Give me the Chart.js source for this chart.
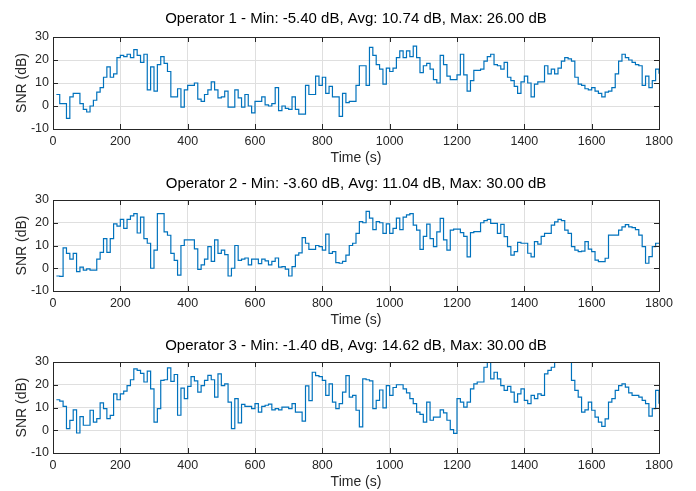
<!DOCTYPE html>
<html>
<head>
<meta charset="utf-8">
<script src="https://cdn.jsdelivr.net/npm/chart.js@4/dist/chart.umd.min.js"></script>
<style>
  body { margin: 0; background: #fff; }
  .wrap { position: relative; width: 696px; height: 491px; }
  canvas { position: absolute; left: 0; }
</style>
</head>
<body>
<div class="wrap">
  <canvas id="op1" width="696" height="165" style="top:0px"></canvas>
  <canvas id="op2" width="696" height="162" style="top:165px"></canvas>
  <canvas id="op3" width="696" height="162" style="top:327px"></canvas>
</div>
<script>
// SNR samples, one every 10 s (value held until the next sample)
const sampleTimes = [];
for (let t = 10; t <= 1800; t += 10) sampleTimes.push(t);

const snrOperator1 = [
  5, 1, 1, -5.4, 4, 5.5, 5.5, 1, -1.5, -2.6,
  0, 2.5, 6, 8, 12.5, 17, 12.5, 14, 21, 22,
  21.5, 22.5, 21, 24.5, 22, 19, 22.5, 7, 17, 6.5,
  18, 21.5, 18.5, 15, 4, 4, 7.5, -0.5, 7, 9,
  9, 10, 3, 2, 5, 7, 10.5, 7, 3.5, 4,
  6.5, -0.5, -0.5, 7, 3.5, -0.5, 5, 0, -3, 2,
  2, 4, 0.5, 0, 1, 8, -2, 0, -1, -1.5,
  4, -1.5, -3.5, -3.5, 9, 5, 5, 13, 9, 12.5,
  5.5, 8.5, 4, 4, -4.5, 5.5, 1.5, 2, 2, 9,
  17.5, 17.5, 9, 25.5, 22, 18, 16, 9.5, 16.5, 15,
  16.5, 21, 24, 21, 24, 21.5, 26, 21, 14.5, 17.5,
  18.5, 16, 11.5, 10, 22, 18, 13, 11.5, 11.5, 13.5,
  22.5, 13.5, 6.5, 11, 15.5, 15.5, 16, 19.5, 21.5, 22.5,
  18, 17.5, 16, 19, 12.5, 11, 8.5, 5.5, 10.5, 13,
  10, 4, 9.5, 10.5, 10.5, 17.5, 14, 16, 14, 16.5,
  19.5, 21, 20.5, 19.5, 12.5, 9.5, 9, 7.5, 7, 8,
  6.5, 5.5, 4, 6, 6.5, 8, 14, 19.5, 22.5, 21,
  20, 19, 18, 17.5, 9, 13, 8, 11, 16, 14
];

const snrOperator2 = [
  -3.4, -3.6, 9, 6.5, 4, 6.5, -1.5, 0.5, -0.8, -0.3,
  -0.8, -0.8, 4, 7, 13, 7, 13, 19.5, 18.5, 21.5,
  17.5, 21.5, 23, 24, 15.5, 22.5, 13, 11, 0, 8,
  24, 24, 16, 14.5, 6.5, 3.5, -3, 10, 12.5, 12.5,
  12.5, 8.5, -0.5, 1.5, 4, 9.5, 3, 12.5, 6.5, 8,
  6, -3.4, 0, 10, 3.5, 4, 4.5, 1.5, 4, 4,
  2, 4, 3.2, 1.5, 3, 4.5, 0.5, 0.7, -0.4, -3.4,
  0.7, 5.8, 6.8, 13.5, 11, 8.3, 8.3, 10, 9.5, 8,
  15, 6.5, 7.3, 2.5, 2.2, 3, 5.8, 10, 11, 15.3,
  20.5, 20, 25, 22, 17, 20.5, 20, 15.3, 19.5, 15.3,
  17.5, 22, 17, 22.5, 23.5, 24, 19, 16.8, 8.3, 14,
  19.4, 13, 9.5, 16, 21.9, 12.5, 8, 16.8, 17.2, 17.2,
  15.7, 14, 5, 15.7, 16.1, 16.1, 20, 20.9, 21.5, 19.7,
  19.7, 15.3, 19.3, 13.9, 9.5, 5.8, 7.3, 11.4, 11, 11,
  6.6, 5, 11.7, 10.6, 14, 15.3, 15.3, 19, 20.4, 21.5,
  20.9, 16.8, 15.3, 9.5, 8, 7.3, 7.5, 11.7, 8.4, 7.3,
  3.6, 2.9, 2.9, 4.4, 14.6, 14.6, 14.6, 16.8, 18.2, 19.2,
  18.2, 17.9, 17, 14.6, 9.5, 2.2, 5.1, 9.5, 11, 11
];

const snrOperator3 = [
  13.4, 12.8, 10.5, 0.7, 4.3, 9, -1.2, 6, 2.2, 2.2,
  8.8, 3.6, 5.1, 12, 9.5, 5.1, 6.5, 16, 13.4, 16,
  17.2, 19.6, 22.2, 27, 26.3, 25, 21.2, 26, 18.2, 3.6,
  9.5, 21.9, 22.2, 27.4, 21.5, 24.5, 6.6, 18.5, 13.9, 19.3,
  23.6, 21.7, 16.8, 19.6, 21.9, 24.1, 22.2, 14.6, 24.8, 19.6,
  20.4, 12.4, 0.7, 13.9, 3.2, 11.4, 10.5, 10.5, 9.5, 11.7,
  8, 10.5, 11, 11.5, 9, 9.5, 9, 10.2, 10.2, 9.5,
  11.7, 8, 8, 4, 19.5, 13, 25.5, 24, 23.6, 21.9,
  15.3, 20.4, 12.4, 9.5, 11.7, 16.8, 24, 14.6, 15.3, 8.8,
  1.5, 22.6, 22.2, 21.7, 9.5, 13.1, 17.7, 9.8, 19.6, 15.3,
  18.8, 20, 20, 18.2, 16.4, 13.9, 11.7, 8, 7, 3.6,
  12.4, 4.4, 5.8, 5.8, 9, 7.6, 4.4, 0.3, -1.4, 13.9,
  12.4, 10.2, 12.4, 18.2, 20.4, 21.2, 21.2, 27.7, 30, 22.6,
  25.5, 22.6, 19.6, 17.5, 19.3, 16.8, 12.4, 16, 18.2, 13.1,
  11.7, 15.3, 13.9, 16, 15.3, 24.8, 26.3, 27.7, 30, 30,
  30, 30, 30, 21.9, 17.5, 14.6, 8, 9, 12.4, 8.8,
  5.8, 3.6, 1.7, 5, 12.4, 13.9, 17.5, 19.6, 20.4, 19,
  16.4, 15.3, 15.3, 14.6, 13.1, 11.7, 6.2, 9.5, 17.5, 11.7
];

const plotTitles = [
  'Operator 1 - Min: -5.40 dB, Avg: 10.74 dB, Max: 26.00 dB',
  'Operator 2 - Min: -3.60 dB, Avg: 11.04 dB, Max: 30.00 dB',
  'Operator 3 - Min: -1.40 dB, Avg: 14.62 dB, Max: 30.00 dB'
];

const axisColor = '#262626';
const gridColor = '#dfdfdf';
const fontFamily = '"Liberation Sans", Arial, Helvetica, sans-serif';

// draws the dark axes box and the inward tick marks on all four sides
const boxAndTicks = {
  id: 'boxAndTicks',
  afterDatasetsDraw(chart) {
    const { ctx, chartArea: a, scales: { x, y } } = chart;
    const len = 5;
    ctx.save();
    ctx.strokeStyle = axisColor;
    ctx.lineWidth = 1;
    ctx.beginPath();
    x.ticks.forEach(t => {
      const px = Math.round(x.getPixelForValue(t.value)) + 0.5;
      ctx.moveTo(px, a.bottom); ctx.lineTo(px, a.bottom - len);
      ctx.moveTo(px, a.top); ctx.lineTo(px, a.top + len);
    });
    y.ticks.forEach(t => {
      const py = Math.round(y.getPixelForValue(t.value)) + 0.5;
      ctx.moveTo(a.left, py); ctx.lineTo(a.left + len, py);
      ctx.moveTo(a.right, py); ctx.lineTo(a.right - len, py);
    });
    ctx.stroke();
    ctx.strokeRect(Math.round(a.left) + 0.5, Math.round(a.top) + 0.5,
      Math.round(a.right - a.left), Math.round(a.bottom - a.top));
    ctx.restore();
  }
};

// title centred over the plot area rather than over the whole canvas
const axesTitle = {
  id: 'axesTitle',
  afterDraw(chart, args, opts) {
    const { ctx, chartArea: a } = chart;
    ctx.save();
    ctx.fillStyle = '#000';
    ctx.font = '15px ' + fontFamily;
    ctx.textAlign = 'center';
    ctx.textBaseline = 'middle';
    ctx.fillText(opts.text, (a.left + a.right) / 2, opts.y);
    ctx.restore();
  }
};

function makeChart(canvasId, title, values, topPad) {
  const points = sampleTimes.map((t, i) => ({ x: t, y: values[i] }));
  const ctx = document.getElementById(canvasId).getContext('2d');

  return new Chart(ctx, {
    type: 'line',
    data: {
      datasets: [{
        data: points,
        stepped: true,
        borderColor: '#0072BD',
        borderWidth: 1.2,
        pointRadius: 0,
        fill: false
      }]
    },
    options: {
      responsive: false,
      animation: false,
      devicePixelRatio: 1,
      layout: { padding: { left: 0, right: 37, top: topPad, bottom: 0 } },
      plugins: {
        legend: { display: false },
        tooltip: { enabled: false },
        title: { display: false },
        axesTitle: { text: title, y: 19 }
      },
      scales: {
        x: {
          type: 'linear',
          min: 0,
          max: 1800,
          afterFit: scale => { scale.height = 36; },
          grid: { color: gridColor, drawTicks: false },
          border: { display: false },
          ticks: {
            stepSize: 200,
            autoSkip: false,
            maxRotation: 0,
            padding: 5,
            color: axisColor,
            font: { family: fontFamily, size: 12.5 },
            callback: v => String(v)
          },
          title: {
            display: true,
            text: 'Time (s)',
            color: axisColor,
            font: { family: fontFamily, size: 14, lineHeight: 1 },
            padding: { top: 0, bottom: 0 }
          }
        },
        y: {
          min: -10,
          max: 30,
          afterFit: scale => { scale.width = 53; },
          grid: { color: gridColor, drawTicks: false },
          border: { display: false },
          ticks: {
            stepSize: 10,
            padding: 4,
            color: axisColor,
            font: { family: fontFamily, size: 12.5 }
          },
          title: {
            display: true,
            text: 'SNR (dB)',
            color: axisColor,
            font: { family: fontFamily, size: 14, lineHeight: 1 },
            padding: { top: 15, bottom: 0 }
          }
        }
      }
    },
    plugins: [boxAndTicks, axesTitle]
  });
}

makeChart('op1', plotTitles[0], snrOperator1, 37);
makeChart('op2', plotTitles[1], snrOperator2, 35);
makeChart('op3', plotTitles[2], snrOperator3, 35);
</script>
</body>
</html>
